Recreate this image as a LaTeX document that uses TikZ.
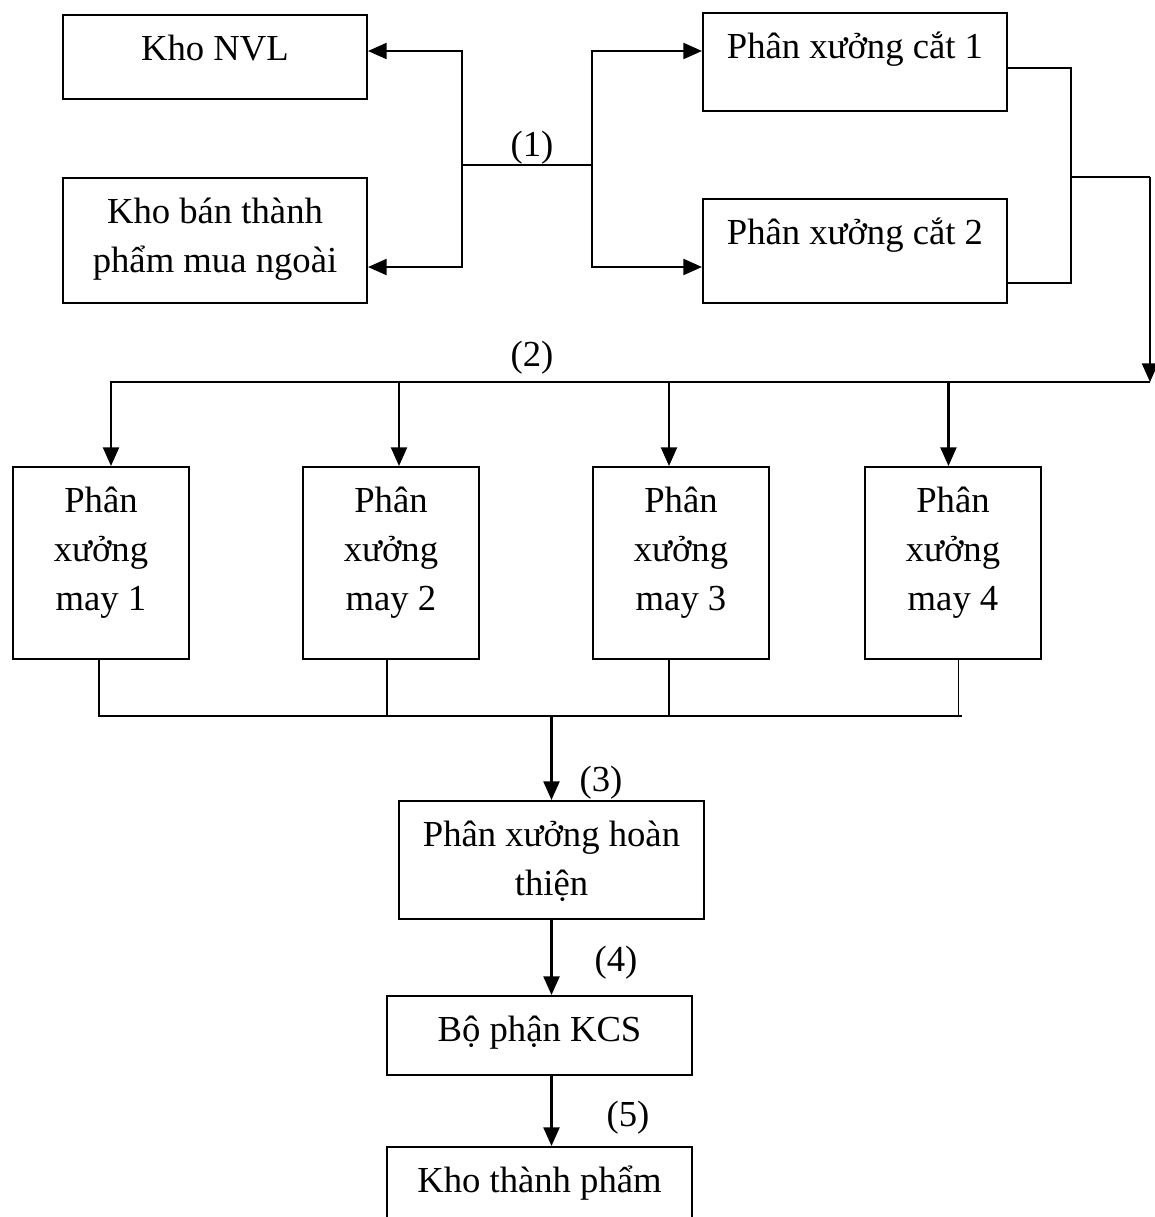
\documentclass[tikz,border=0pt]{standalone}
\usepackage{fontspec}
\setmainfont{Liberation Serif}
\usetikzlibrary{arrows.meta}
% fixed-size box text, set from the top with a small inner margin
\newcommand{\boxtext}[3]{\parbox[c][#2][t]{#1}{\centering\vspace*{8pt}\strut#3}}

\begin{document}
\begin{tikzpicture}[x=0.75pt,y=-0.75pt,
  font=\fontsize{27.5pt}{36.8pt}\selectfont,
  box/.style={draw,line width=1.5pt,inner sep=0pt,anchor=north west},
  link/.style={line width=1.3pt},
  arr/.style={line width=1.7pt,-{Triangle[length=14pt,width=12pt]}},
  tag/.style={anchor=base,inner sep=0pt}]
\useasboundingbox (0,0) rectangle (1155,1217);

% storage and cutting
\node[box] (nvl)  at (62,14)   {\boxtext{228pt}{63pt}{Kho NVL}};
\node[box] (ban)  at (62,177)  {\boxtext{228pt}{93.75pt}{Kho bán thành\\phẩm mua ngoài}};
\node[box] (cat1) at (702,12)  {\boxtext{228pt}{73.5pt}{Phân xưởng cắt 1}};
\node[box] (cat2) at (702,198) {\boxtext{228pt}{78pt}{Phân xưởng cắt 2}};

% sewing workshops
\node[box] (m1) at (12,466)  {\boxtext{132pt}{144pt}{Phân\\xưởng\\may 1}};
\node[box] (m2) at (302,466) {\boxtext{132pt}{144pt}{Phân\\xưởng\\may 2}};
\node[box] (m3) at (592,466) {\boxtext{132pt}{144pt}{Phân\\xưởng\\may 3}};
\node[box] (m4) at (864,466) {\boxtext{132pt}{144pt}{Phân\\xưởng\\may 4}};

% finishing chain
\node[box] (ht)  at (398,800)  {\boxtext{228.75pt}{88.5pt}{Phân xưởng hoàn\\thiện}};
\node[box] (kcs) at (386,995)  {\boxtext{228.75pt}{59.25pt}{Bộ phận KCS}};
\node[box] (tp)  at (386,1146) {\boxtext{228.75pt}{82.5pt}{Kho thành phẩm}};

% step labels
\node[tag] (s1) at (532,156)  {(1)};
\node[tag] (s2) at (532,366)  {(2)};
\node[tag] (s3) at (601,791)  {(3)};
\node[tag] (s4) at (616,971)  {(4)};
\node[tag] (s5) at (628,1126) {(5)};

% (1): distribution between the stores and the cutting workshops
\coordinate (lj) at (462,165);
\coordinate (rj) at (592,165);
\coordinate (nvlIn)  at ([yshift=4.5pt]nvl.east);
\coordinate (banIn)  at ([yshift=-19.9pt]ban.east);
\coordinate (cat1In) at ([yshift=8.25pt]cat1.west);
\coordinate (cat2In) at ([yshift=-12pt]cat2.west);
\draw[link] (lj) -- (rj);
\draw[arr] (lj) |- (nvlIn);
\draw[arr] (lj) |- (banIn);
\draw[arr] (rj) |- (cat1In);
\draw[arr] (rj) |- (cat2In);

% cutting output collected and sent down to the bus (2)
\coordinate (c1out) at ([yshift=-4.5pt]cat1.east);
\coordinate (c2out) at ([yshift=-24pt]cat2.east);
\coordinate (rx)   at (1071,177);
\coordinate (drop) at (1150,177);
\coordinate (busL) at (110,382);
\coordinate (busR) at (1150,382);
\draw[link] (c1out) -| (rx) |- (c2out);
\draw[link] (rx) -- (drop);
\draw[arr] (drop) -- (busR);
\draw[link] (busR) -- (busL);

% bus (2) to the sewing workshops
\coordinate (t1) at ([xshift=7.5pt]m1.north);
\coordinate (t2) at ([xshift=6pt]m2.north);
\coordinate (t3) at ([xshift=-9pt]m3.north);
\coordinate (t4) at ([xshift=-3.4pt]m4.north);
\foreach \t in {t1,t2,t3,t4} \draw[arr] (\t |- busL) -- (\t);

% sewing output collected into the lower bus
\coordinate (b1) at ([xshift=-1.5pt]m1.south);
\coordinate (b2) at ([xshift=-3pt]m2.south);
\coordinate (b3) at ([xshift=-9pt]m3.south);
\coordinate (b4) at ([xshift=4.1pt]m4.south);
\coordinate (lbL) at (98,716);
\coordinate (lbR) at (962,716);
\draw[link] (lbL) -- (lbR);
\foreach \b in {b1,b2,b3,b4} \draw[link] (\b) -- (\b |- lbL);

% (3), (4), (5)
\draw[arr] (ht.north |- lbL) -- (ht.north);
\draw[arr] (ht.south) -- (ht.south |- kcs.north);
\draw[arr] (kcs.south -| ht.south) -- (tp.north -| ht.south);
\end{tikzpicture}
\end{document}
